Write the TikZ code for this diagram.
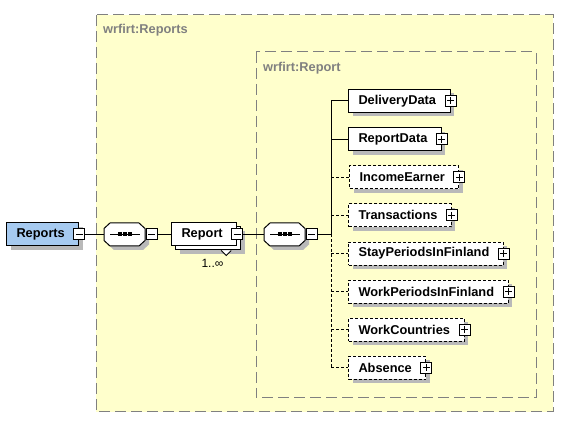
\documentclass[tikz,border=0pt]{standalone}
\usepackage{fontspec}
\setmainfont{Liberation Sans}
\usetikzlibrary{shadows,calc}
\definecolor{grpyellow}{RGB}{255,255,204}
\definecolor{grpgray}{RGB}{128,128,128}
\definecolor{shadowc}{RGB}{185,185,185}
\definecolor{rootblue}{RGB}{166,202,240}
\tikzset{
  lbl/.style={font=\bfseries\fontsize{12.8}{15}\selectfont},
  elbase/.style={draw, line width=1pt, fill=white, lbl, minimum height=23pt,
    inner ysep=0pt, inner xsep=0pt,
    execute at begin node={\hspace*{10pt}}, execute at end node={\hspace*{14pt}}},
  shad/.style={drop shadow={shadow xshift=4pt, shadow yshift=-4pt, fill=shadowc, opacity=1}},
  elem/.style={elbase, shad},
  optel/.style={elem, dash pattern=on 3pt off 2pt},
  pmbox/.style={draw, line width=1pt, fill=white, minimum size=11pt, inner sep=0pt},
  minusbox/.style={pmbox, path picture={
      \draw[line width=1pt] ([xshift=2pt]path picture bounding box.west) -- ([xshift=-2pt]path picture bounding box.east);}},
  plusbox/.style={pmbox, path picture={
      \draw[line width=1pt] ([xshift=2pt]path picture bounding box.west) -- ([xshift=-2pt]path picture bounding box.east);
      \draw[line width=1pt] ([yshift=-2pt]path picture bounding box.north) -- ([yshift=2pt]path picture bounding box.south);}},
  grpbox/.style={draw=grpgray, fill=grpyellow, line width=1pt, dash pattern=on 11pt off 5pt},
  grplabel/.style={lbl, text=grpgray, inner sep=0pt, anchor=west},
  seqnode/.style={minimum width=41pt, minimum height=23pt, inner sep=0pt},
  conn/.style={line width=1pt, draw=black},
  optconn/.style={conn, dash pattern=on 3pt off 2pt},
}
\newcommand\seqoct[1]{%
  \begin{scope}[shift={(#1.center)}]
    \fill[shadowc] (-16.5,-2) -- (-10.5,-7.5) -- (18.5,-7.5) -- (24.5,-2) -- (24.5,10) -- (18.5,15.5) -- (-10.5,15.5) -- (-16.5,10) -- cycle;
    \draw[line width=1pt, fill=white] (-20.5,-6) -- (-14.5,-11.5) -- (14.5,-11.5) -- (20.5,-6) -- (20.5,6) -- (14.5,11.5) -- (-14.5,11.5) -- (-20.5,6) -- cycle;
    \draw[line width=1pt] (-14.5,0) -- (15.5,0);
    \fill (-7,-2) rectangle (-3,2);
    \fill (-2,-2) rectangle (2,2);
    \fill (3,-2) rectangle (7,2);
  \end{scope}}
\begin{document}
\begin{tikzpicture}[x=1pt,y=-1pt]
\useasboundingbox (0,0) rectangle (565,427);
% group boxes
\draw[grpbox] (96,15) rectangle (553,412);
\node[grplabel] (g1) at (103,30) {wrfirt:Reports};
\draw[grpbox] (256,52) rectangle (536,398);
\node[grplabel] (g2) at (263,68) {wrfirt:Report};

% root element
\node[elem, fill=rootblue, anchor=west] (reports) at (6,234.5) {Reports};
\node[minusbox] (reportsm) at (reports.east) {};

% first sequence
\node[seqnode] (s1) at (124.5,234.5) {};
\seqoct{s1}
\node[minusbox, anchor=west] (s1m) at ([xshift=0.5pt]s1.east) {};

% Report (repeated element)
\node[elem, anchor=west] (repback) at (175,238.5) {\phantom{Report}};
\node[elbase, anchor=west] (report) at (171,234.5) {Report};
\node[minusbox] (reportm) at (report.east) {};
\draw[line width=1pt, fill=white] ($(repback.south east)+(-20,0)$) -- ($(repback.south east)+(-15,5)$) -- ($(repback.south east)+(-10,0)$);
\node[font=\fontsize{12}{14}\selectfont, inner sep=0pt] (occ) at (212.5,263) {1..∞};

% second sequence
\node[seqnode] (s2) at (284.5,234.5) {};
\seqoct{s2}
\node[minusbox, anchor=west] (s2m) at ([xshift=0.5pt]s2.east) {};

% children
\node[elem, anchor=west]  (dd) at (348,101)   {DeliveryData};
\node[elem, anchor=west]  (rd) at (348,139.1) {ReportData};
\node[optel, anchor=west] (ie) at (349,177.3) {IncomeEarner};
\node[optel, anchor=west] (tr) at (348,215.4) {Transactions};
\node[optel, anchor=west] (sp) at (348,253.6) {StayPeriodsInFinland};
\node[optel, anchor=west] (wp) at (348,291.7) {WorkPeriodsInFinland};
\node[optel, anchor=west] (wc) at (348,329.9) {WorkCountries};
\node[optel, anchor=west] (ab) at (348,368)   {Absence};
\node[plusbox] (ddp) at (dd.east) {};
\node[plusbox] (rdp) at (rd.east) {};
\node[plusbox] (iep) at (ie.east) {};
\node[plusbox] (trp) at (tr.east) {};
\node[plusbox] (spp) at (sp.east) {};
\node[plusbox] (wpp) at (wp.east) {};
\node[plusbox] (wcp) at (wc.east) {};
\node[plusbox] (abp) at (ab.east) {};

% connectors
\coordinate (jn) at (331,234.5);
\draw[conn] (reportsm.east) -- (s1.west);
\draw[conn] (s1m.east) -- (report.west);
\draw[conn] (reportm.east) -- (s2.west);
\draw[conn] (s2m.east) -- (jn);
\draw[conn] (dd.west -| jn) -- (jn);
\draw[optconn] (jn) -- (ab.west -| jn);
\draw[conn] (dd.west -| jn) -- (dd.west);
\draw[conn] (rd.west -| jn) -- (rd.west);
\draw[optconn] (ie.west -| jn) -- (ie.west);
\draw[optconn] (tr.west -| jn) -- (tr.west);
\draw[optconn] (sp.west -| jn) -- (sp.west);
\draw[optconn] (wp.west -| jn) -- (wp.west);
\draw[optconn] (wc.west -| jn) -- (wc.west);
\draw[optconn] (ab.west -| jn) -- (ab.west);
\end{tikzpicture}
\end{document}
